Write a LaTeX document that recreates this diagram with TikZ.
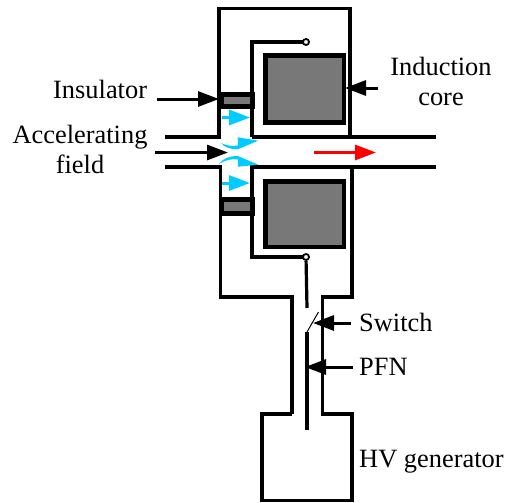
\documentclass[tikz,border=0pt]{standalone}
\usepackage{fontspec}
\setmainfont{Liberation Serif}
\usetikzlibrary{arrows.meta}
\definecolor{beam}{RGB}{0,204,255}
\tikzset{
  wall/.style={line width=3.2pt,line cap=butt,line join=miter},
  core/.style={line width=4.6pt,fill=black!53},
  ins/.style={line width=5pt,fill=black!53},
  pointer/.style={line width=3pt,-{Triangle[length=21pt,width=15pt]}},
  redarrow/.style={pointer,color=red},
  bluearrow/.style={line width=3pt,color=beam,-{Triangle[length=21pt,width=15pt]}},
  lab/.style={font=\fontsize{26.4}{30}\selectfont,inner sep=0pt,align=center}
}
\begin{document}
\begin{tikzpicture}[x=1pt,y=-1pt]
\useasboundingbox (0,0) rectangle (506,503);
% outer walls
\draw[wall] (165,137) -- (219,137) -- (219,8.5) -- (350,8.5) -- (350,137);
\draw[wall] (252,137) -- (436,137);
\draw[wall] (252,137) -- (252,42) -- (303,42);
\draw[wall] (165,167) -- (220.5,167) -- (220.5,297) -- (292,297) -- (292,414);
\draw[wall] (436,167) -- (252,167) -- (252,257) -- (303,257);
\draw[wall] (352,167) -- (352,297) -- (322.5,297) -- (322.5,414) -- (352,414) -- (352,500.5) -- (262,500.5) -- (262,414) -- (292,414);
% terminals
\node[circle,draw,line width=1.8pt,fill=white,minimum size=6pt,inner sep=0pt] (ct) at (306,42) {};
\node[circle,draw,line width=1.8pt,fill=white,minimum size=6pt,inner sep=0pt] (cb) at (306,257) {};
\coordinate (swtop) at (307,308);
\coordinate (swa) at (307,332);
\coordinate (swb) at (318.5,312);
\coordinate (pfnend) at (307,430);
\draw[wall] (cb) -- (swtop);
\draw[wall] (swa) -- (pfnend);
\draw[line width=1pt] (swa) -- (swb);
% cores
\draw[core] (265.5,55.5) rectangle (344,122.5);
\draw[core] (265.5,181.5) rectangle (344,247);
% insulators
\draw[ins] (221.5,94.5) rectangle (252.5,106.5);
\draw[ins] (221.5,199.5) rectangle (252.5,213.5);
% pointers
\coordinate (a1) at (157,99); \coordinate (a2) at (219,99);
\coordinate (b1) at (378,88); \coordinate (b2) at (345,88);
\coordinate (c1) at (155,152.5); \coordinate (c2) at (228,152.5);
\coordinate (d1) at (314,152.5); \coordinate (d2) at (376,152.5);
\coordinate (e1) at (351,323); \coordinate (e2) at (313,323);
\coordinate (f1) at (353,367); \coordinate (f2) at (305,367);
\draw[pointer] (a1) -- (a2);
\draw[pointer] (b1) -- (b2);
\draw[pointer] (c1) -- (c2);
\draw[redarrow] (d1) -- (d2);
\draw[pointer] (e1) -- (e2);
\draw[pointer] (f1) -- (f2);
% field arrows
\coordinate (g1) at (222,117.5); \coordinate (g2) at (250,117.5);
\coordinate (h1) at (222,183); \coordinate (h2) at (250,183);
\draw[bluearrow] (g1) -- (g2);
\draw[bluearrow] (h1) -- (h2);
\fill[beam] (237.7,137.3) -- (258.3,140.7) -- (237.7,149.3) .. controls (230,149.3) and (224,147) .. (221,143) .. controls (226,145.5) and (232,146.5) .. (238,145.5) -- cycle;
\fill[beam] (237.7,166.7) -- (258.3,164.7) -- (237.7,156) .. controls (230,156) and (223,158) .. (219,164) .. controls (225,160) and (232,158.5) .. (238,159.5) -- cycle;
% labels
\node[lab,anchor=west] (t1) at (53,89) {Insulator};
\node[lab] (t2) at (441,81.5) {Induction\\core};
\node[lab] (t3) at (80,149) {Accelerating\\field};
\node[lab,anchor=west] (t4) at (359,322.5) {Switch};
\node[lab,anchor=west] (t5) at (359,367) {PFN};
\node[lab,anchor=west] (t6) at (359,462) {HV generator};
\end{tikzpicture}
\end{document}
